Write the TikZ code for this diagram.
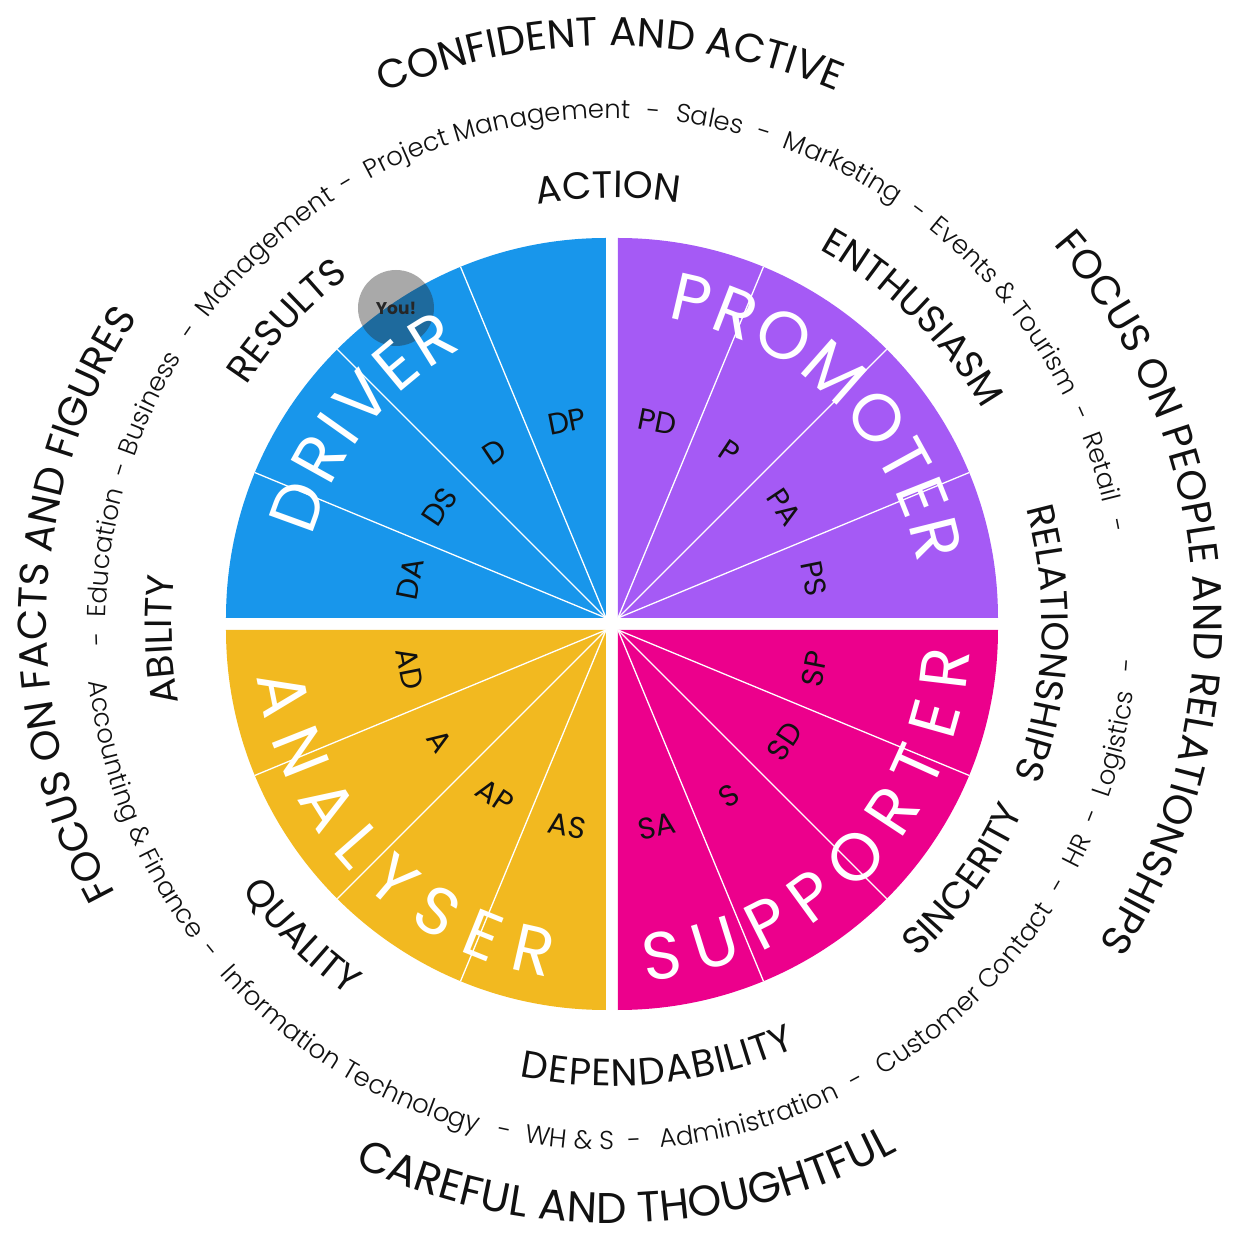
\documentclass[tikz,border=0pt]{standalone}
\usepackage{fontspec}
\setmainfont{Poppins}
\newfontfamily\lightfamily{Poppins}[UprightFont={* Light}]
\usetikzlibrary{decorations.text}
\definecolor{drvblue}{HTML}{1896EB}
\definecolor{prmpurple}{HTML}{A55AF5}
\definecolor{anlyellow}{HTML}{F2B920}
\definecolor{suppink}{HTML}{EC008C}
\definecolor{ink}{HTML}{111111}
\newcommand\bigfont{\fontsize{40.5}{44}\selectfont\color{ink}}
\newcommand\lowfont{\fontsize{43}{46}\selectfont\color{ink}}
\newcommand\wordfont{\fontsize{38}{42}\selectfont\color{ink}}
\newcommand\namefont{\fontsize{67}{70}\selectfont\color{white}}
\newcommand\ringfont{\lightfamily\fontsize{26}{30}\selectfont\color{ink}}
\newcommand\labfont{\fontsize{30}{34}\selectfont}
% text on an arc round the centre, centred at angle #2
\newcommand\cwtext[4]{\path[decorate,decoration={text along path,text align=center,text={|#3|#4}}]({#2+80}:#1) arc[start angle={#2+80},end angle={#2-80},radius=#1];}
\newcommand\ccwtext[4]{\path[decorate,decoration={text along path,text align=center,text={|#3|#4}}]({#2-80}:#1) arc[start angle={#2-80},end angle={#2+80},radius=#1];}
\newcommand\fittext[6]{\path[decorate,decoration={text along path,text align=fit to path,text={|#5|#6}}]([shift={#1}]#3:#2) arc[start angle=#3,end angle=#4,radius=#2];}
\begin{document}
\begin{tikzpicture}[x=1pt,y=1pt,
  wedgelab/.style={font=\labfont,text=ink,inner sep=0pt},
  divider/.style={white,line width=1.3pt}]
\useasboundingbox (-612,-612) rectangle (628,624);
\pgfmathsetmacro{\R}{380}
% quadrants, split in four
\foreach \qa/\col/\sx/\sy in {0/prmpurple/6/6,90/drvblue/-6/6,180/anlyellow/-6/-6,270/suppink/6/-6}{
  \fill[\col](\sx,\sy)--++(\qa:\R)arc[start angle=\qa,end angle=\qa+90,radius=\R pt]--cycle;
  \foreach \k in {1,2,3}\draw[divider](\sx,\sy)--++({\qa+22.5*\k}:\R);
}
\foreach \ang/\lab/\sx/\sy in {11.25/PS/6/6,33.75/PA/6/6,56.25/P/6/6,78.75/PD/6/6,
  101.25/DP/-6/6,123.75/D/-6/6,146.25/DS/-6/6,168.75/DA/-6/6,
  191.25/AD/-6/-6,213.75/A/-6/-6,236.25/AP/-6/-6,258.75/AS/-6/-6,
  281.25/SA/6/-6,303.75/S/6/-6,326.25/SD/6/-6,348.75/SP/6/-6}{
  \pgfmathsetmacro{\rot}{\ang<180 ? \ang-90 : \ang+90}
  \node[wedgelab,rotate=\rot](lab-\lab) at ([shift={(\sx,\sy)}]\ang:200){\lab};
}
% the marker
\node[circle,fill=black!84,fill opacity=0.4,minimum size=76pt,inner sep=0pt](you) at (-216,316){};
\node[font=\bfseries\fontsize{17}{20}\selectfont,text=black!85](you-text) at (you){You!};
\fittext{(-6,6)}{305pt}{164.5}{118}{\namefont}{DRIVER}
\fittext{(6,6)}{304pt}{80.6}{10.2}{\namefont}{PROMOTER}
\fittext{(-6,-6)}{352pt}{187.5}{260.5}{\namefont}{ANALYSER}
\fittext{(6,-6)}{352pt}{-85.6}{-3.5}{\namefont}{SUPPORTER}
% inner ring of words
\cwtext{426pt}{90.5}{\wordfont}{ACTION}
\cwtext{428pt}{45.5}{\wordfont}{ENTHUSIASM}
\cwtext{436pt}{137}{\wordfont}{RESULTS}
\cwtext{440pt}{182}{\wordfont}{ABILITY}
\cwtext{430pt}{-2.6}{\wordfont}{RELATIONSHIPS}
\ccwtext{452pt}{-36}{\wordfont}{SINCERITY}
\fittext{(0,0)}{462pt}{258.5}{293.5}{\wordfont}{DEPENDABILITY}
\ccwtext{456pt}{225.2}{\wordfont}{QUALITY}
% careers
\foreach \ang/\word in {181.7/-,172/Education,162.5/-,154.5/Business,145.3/-,133/Management,121/-,
  103.3/Project Management,85.3/-,79/Sales,72.8/-,63.2/Marketing,53.4/-,39/Events {\&} Tourism,24.2/-,17.8/Retail,11/-}{
  \edef\ringitem{\noexpand\cwtext{506pt}{\ang}{\noexpand\ringfont}{\word}}\ringitem
}
\foreach \ang/\word in {201.6/Accounting {\&} Finance,219.1/-,238.5/Information Technology,258.1/-,265.3/WH {\&} S,
  272.5/-,285.5/Administration,298.2/-,314/Customer Contact,329.7/-,334/HR,338.2/-,346.6/Logistics,355.5/-}{
  \edef\ringitem{\noexpand\ccwtext{526pt}{\ang}{\noexpand\ringfont}{\word}}\ringitem
}
% outer ring
\cwtext{578pt}{90.2}{\bigfont}{CONFIDENT AND ACTIVE}
\cwtext{582pt}{3.7}{\bigfont}{FOCUS ON PEOPLE AND RELATIONSHIPS}
\cwtext{565pt}{177.8}{\bigfont}{FOCUS ON FACTS AND FIGURES}
\ccwtext{599pt}{271.5}{\lowfont}{CAREFUL AND THOUGHTFUL}
\end{tikzpicture}
\end{document}
